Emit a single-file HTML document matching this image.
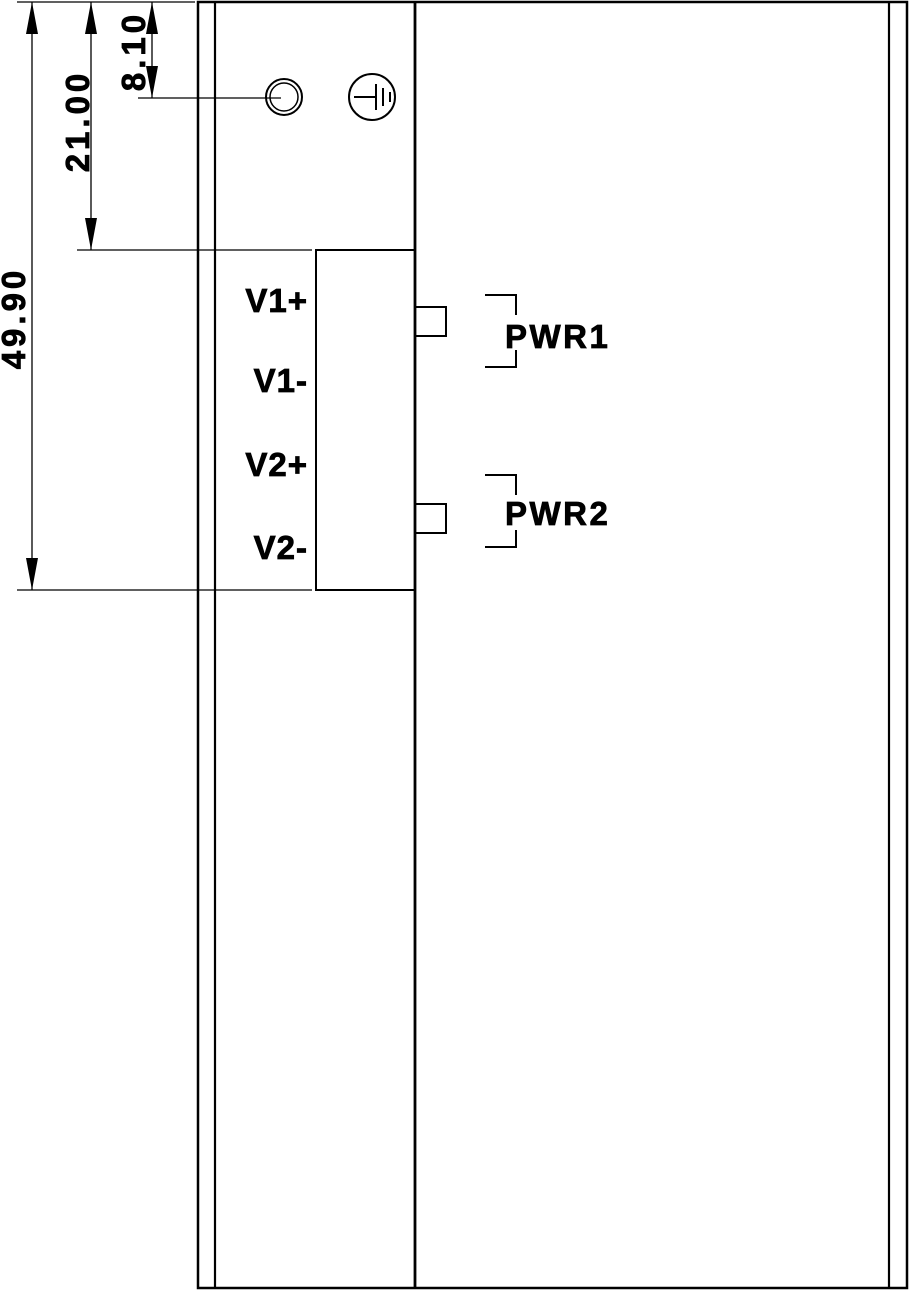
<!DOCTYPE html>
<html><head><style>body{margin:0;background:#fff}svg{display:block}</style></head><body>
<svg width="910" height="1291" xmlns="http://www.w3.org/2000/svg" font-family="Liberation Sans, sans-serif" font-weight="bold">
<g stroke="#000" fill="none">
<rect x="198" y="2" width="709" height="1286" stroke-width="2.5"/>
<line x1="215" y1="2" x2="215" y2="1288" stroke-width="2.2"/>
<line x1="415" y1="2" x2="415" y2="1288" stroke-width="2.8"/>
<line x1="889" y1="2" x2="889" y2="1288" stroke-width="2.2"/>
<line x1="17" y1="2" x2="195" y2="2" stroke-width="1.3"/>
<line x1="77" y1="250" x2="312" y2="250" stroke-width="1.3"/>
<line x1="17" y1="590" x2="312" y2="590" stroke-width="1.3"/>
<line x1="138" y1="98" x2="281" y2="98" stroke-width="1.3"/>
<line x1="32" y1="2" x2="32" y2="590" stroke-width="1.3"/>
<line x1="91" y1="2" x2="91" y2="250" stroke-width="1.3"/>
<line x1="152" y1="2" x2="152" y2="98" stroke-width="1.3"/>
<circle cx="284" cy="97" r="18" stroke-width="2"/>
<circle cx="284" cy="97" r="14" stroke-width="1.5"/>
<circle cx="372" cy="97" r="23" stroke-width="2"/>
<line x1="354" y1="97" x2="376" y2="97" stroke-width="2"/>
<line x1="376" y1="84" x2="376" y2="110" stroke-width="2"/>
<line x1="383" y1="88" x2="383" y2="106" stroke-width="2"/>
<line x1="390" y1="92" x2="390" y2="102" stroke-width="2"/>
<rect x="316" y="250" width="99" height="340" stroke-width="2"/>
<rect x="415" y="307" width="31" height="29" stroke-width="2"/>
<rect x="415" y="504" width="31" height="29" stroke-width="2"/>
<polyline points="485,295 516,295 516,315" stroke-width="2"/>
<polyline points="485,367 516,367 516,350" stroke-width="2"/>
<polyline points="485,475 516,475 516,495" stroke-width="2"/>
<polyline points="485,547 516,547 516,530" stroke-width="2"/>
</g>
<g fill="#000">
<polygon points="32,2 26,34 38,34"/><polygon points="32,590 26,558 38,558"/>
<polygon points="91,2 85,34 97,34"/><polygon points="91,250 85,218 97,218"/>
<polygon points="152,2 146,34 158,34"/><polygon points="152,98 146,66 158,66"/>
</g>
<g font-size="33" stroke="#000" stroke-width="0.8">
<text x="308" y="312" text-anchor="end" letter-spacing="1">V1+</text>
<text x="308" y="392" text-anchor="end" letter-spacing="1">V1-</text>
<text x="308" y="476" text-anchor="end" letter-spacing="1">V2+</text>
<text x="308" y="559" text-anchor="end" letter-spacing="1">V2-</text>
<text x="505" y="348" letter-spacing="2.5">PWR1</text>
<text x="505" y="525" letter-spacing="2.5">PWR2</text>
<text transform="translate(25,318) rotate(-90)" text-anchor="middle" letter-spacing="4">49.90</text>
<text transform="translate(89,121) rotate(-90)" text-anchor="middle" letter-spacing="4">21.00</text>
<text transform="translate(145,51) rotate(-90)" text-anchor="middle" letter-spacing="4">8.10</text>
</g>
</svg>
</body></html>
